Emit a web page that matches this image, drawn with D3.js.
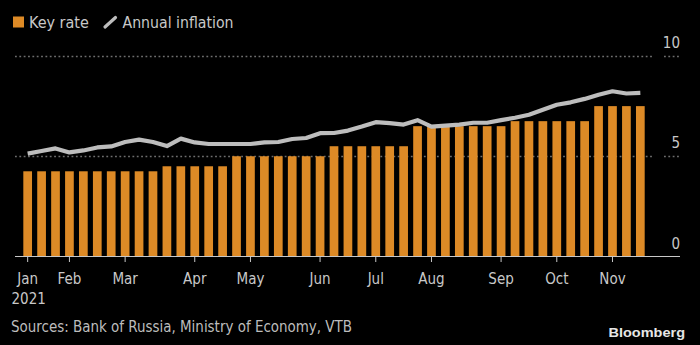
<!DOCTYPE html>
<html>
<head>
<meta charset="utf-8">
<script src="https://cdn.jsdelivr.net/npm/d3@7"></script>
<style>
  html, body { margin: 0; padding: 0; background: #000; }
  svg { display: block; }
  text { font-family: "DejaVu Sans Condensed", "DejaVu Sans", sans-serif; font-stretch: condensed; }
</style>
</head>
<body>
<svg id="chart" width="700" height="345"></svg>
<script>
// Weekly observations (Mondays), 2021
const weeks = [
  "2021-01-11","2021-01-18","2021-01-25",
  "2021-02-01","2021-02-08","2021-02-15","2021-02-22",
  "2021-03-01","2021-03-08","2021-03-15","2021-03-22","2021-03-29",
  "2021-04-05","2021-04-12","2021-04-19","2021-04-26",
  "2021-05-03","2021-05-10","2021-05-17","2021-05-24","2021-05-31",
  "2021-06-07","2021-06-14","2021-06-21","2021-06-28",
  "2021-07-05","2021-07-12","2021-07-19","2021-07-26",
  "2021-08-02","2021-08-09","2021-08-16","2021-08-23","2021-08-30",
  "2021-09-06","2021-09-13","2021-09-20","2021-09-27",
  "2021-10-04","2021-10-11","2021-10-18","2021-10-25",
  "2021-11-01","2021-11-08","2021-11-15"
];

// Bank of Russia key rate, %
const keyRate = [
  4.25, 4.25, 4.25, 4.25, 4.25, 4.25, 4.25, 4.25, 4.25, 4.25,
  4.5, 4.5, 4.5, 4.5, 4.5,
  5, 5, 5, 5, 5, 5, 5,
  5.5, 5.5, 5.5, 5.5, 5.5, 5.5,
  6.5, 6.5, 6.5, 6.5, 6.5, 6.5, 6.5,
  6.75, 6.75, 6.75, 6.75, 6.75, 6.75,
  7.5, 7.5, 7.5, 7.5
];

// Annual inflation, %
const inflation = [
  5.13, 5.26, 5.39, 5.19, 5.29, 5.44, 5.49, 5.71, 5.83, 5.71,
  5.51, 5.88, 5.69, 5.61, 5.61, 5.61, 5.61, 5.69, 5.71, 5.86,
  5.91, 6.15, 6.16, 6.28, 6.48, 6.70, 6.65, 6.58, 6.80, 6.48,
  6.53, 6.58, 6.67, 6.67, 6.80, 6.92, 7.07, 7.32, 7.57, 7.69,
  7.86, 8.07, 8.24, 8.13, 8.16
];

const yTicks = [0, 5, 10];
const legendLabels = ["Key rate", "Annual inflation"];
const yearLabel = "2021";
const sourceText = "Sources: Bank of Russia, Ministry of Economy, VTB";
const brandText = "Bloomberg";

const colors = { bar: "#dd8a26", line: "#bdbdbd", grid: "#6e6e6e", axis: "#c8c8c8", text: "#c8c8c8" };

const svg = d3.select("#chart");
const parse = d3.timeParse("%Y-%m-%d");
const fmtMonth = d3.timeFormat("%b");

const plotLeft = 15, plotRight = 652, axisRight = 680;

const x = d3.scaleBand()
  .domain(weeks)
  .range([20.7, 647.3])
  .paddingInner(0.375)
  .paddingOuter(0.1875);

const y = d3.scaleLinear().domain([0, 10]).range([256.5, 56]);

// Gridlines (dotted) with a short stub under each value label
const grid = svg.append("g");
yTicks.filter(v => v > 0).forEach(v => {
  const yy = Math.round(y(v)) + 0.5;
  [[plotLeft, plotRight], [664, axisRight]].forEach(([a, b]) => {
    grid.append("line")
      .attr("x1", a).attr("x2", b).attr("y1", yy).attr("y2", yy)
      .attr("stroke", colors.grid).attr("stroke-width", 1.6)
      .attr("stroke-dasharray", "1.8,2.55");
  });
});

// Value labels on the right
svg.append("g").selectAll("text")
  .data(yTicks)
  .join("text")
  .attr("x", axisRight)
  .attr("y", d => Math.round(y(d)) - 8.5)
  .attr("text-anchor", "end")
  .attr("fill", colors.text)
  .attr("font-size", 15)
  .text(d => d);

// Key rate bars
svg.append("g").selectAll("rect")
  .data(weeks.map((w, i) => ({ w, v: keyRate[i] })))
  .join("rect")
  .attr("x", d => x(d.w))
  .attr("width", x.bandwidth())
  .attr("y", d => y(d.v))
  .attr("height", d => y(0) - y(d.v))
  .attr("fill", colors.bar);

// Inflation line
const line = d3.line()
  .x((d, i) => x(weeks[i]) + x.bandwidth() / 2)
  .y(d => y(d));

svg.append("path")
  .datum(inflation)
  .attr("d", line)
  .attr("fill", "none")
  .attr("stroke", colors.line)
  .attr("stroke-width", 4.2)
  .attr("stroke-linejoin", "round");

// Time axis: ticks at the first week of each month
const monthStarts = weeks.filter((w, i) => i === 0 || parse(w).getMonth() !== parse(weeks[i - 1]).getMonth());

const xAxis = d3.axisBottom(x)
  .tickValues(monthStarts)
  .tickSize(6)
  .tickFormat(w => fmtMonth(parse(w)));

const gx = svg.append("g")
  .attr("transform", "translate(0,256)")
  .call(xAxis);
gx.select(".domain").remove();
gx.selectAll(".tick line").attr("stroke", colors.axis).attr("stroke-width", 1);
gx.selectAll(".tick text")
  .attr("y", 28).attr("dy", 0)
  .attr("fill", colors.text)
  .attr("font-size", 15)
  .attr("font-family", null);

svg.append("line")
  .attr("x1", plotLeft).attr("x2", axisRight)
  .attr("y1", 256.5).attr("y2", 256.5)
  .attr("stroke", colors.axis).attr("stroke-width", 1);

svg.append("text")
  .attr("x", 11.5).attr("y", 303.5)
  .attr("fill", colors.text).attr("font-size", 15)
  .text(yearLabel);

// Legend
const legend = svg.append("g");
legend.append("rect")
  .attr("x", 13).attr("y", 16.5).attr("width", 11).attr("height", 11)
  .attr("fill", colors.bar);
legend.append("text")
  .attr("x", 29).attr("y", 27.5)
  .attr("fill", colors.text).attr("font-size", 16)
  .text(legendLabels[0]);
legend.append("line")
  .attr("x1", 105).attr("y1", 27).attr("x2", 115.5).attr("y2", 17.5)
  .attr("stroke", colors.line).attr("stroke-width", 3.2).attr("stroke-linecap", "round");
legend.append("text")
  .attr("x", 122.5).attr("y", 27.5)
  .attr("fill", colors.text).attr("font-size", 16)
  .attr("textLength", 111).attr("lengthAdjust", "spacingAndGlyphs")
  .text(legendLabels[1]);

// Footer
svg.append("text")
  .attr("x", 11).attr("y", 331.5)
  .attr("fill", "#bdbdbd").attr("font-size", 15)
  .attr("textLength", 341).attr("lengthAdjust", "spacingAndGlyphs")
  .text(sourceText);

svg.append("text")
  .attr("x", 608.5).attr("y", 336.5)
  .attr("fill", "#e6e6e6").attr("font-size", 13.5)
  .attr("font-weight", "bold")
  .style("font-family", "'Liberation Sans', Arial, sans-serif")
  .style("font-stretch", "normal")
  .attr("textLength", 76.5).attr("lengthAdjust", "spacingAndGlyphs")
  .text(brandText);
</script>
</body>
</html>
